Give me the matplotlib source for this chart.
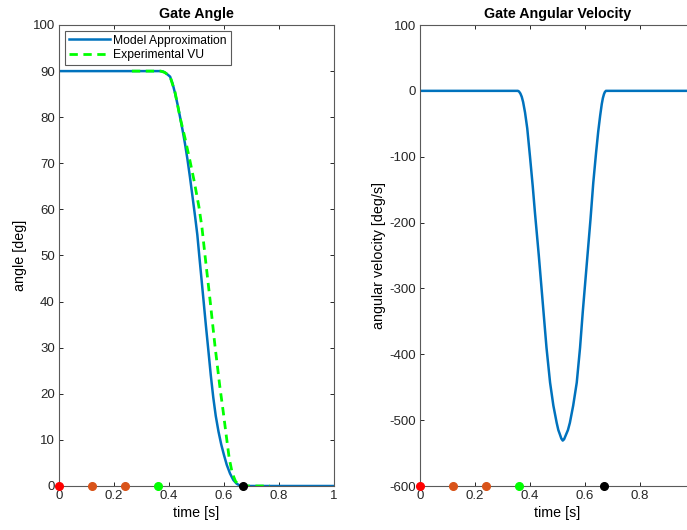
import numpy as np
import matplotlib.pyplot as plt

plt.rcParams['font.family'] = ['Liberation Sans', 'DejaVu Sans']
plt.rcParams['axes.unicode_minus'] = False

# model gate angle [deg] vs time [s]
t_model = [0.0, 0.356, 0.367, 0.379, 0.390, 0.404, 0.413, 0.422, 0.431, 0.440,
           0.449, 0.458, 0.467, 0.476, 0.485, 0.495, 0.503, 0.510, 0.518, 0.525,
           0.534, 0.543, 0.552, 0.561, 0.570, 0.580, 0.590, 0.600, 0.610, 0.622,
           0.634, 0.646, 0.657, 0.669, 1.0]
angle_model = [90.0, 90.0, 90.0, 89.9, 89.5, 88.8, 87.3, 85.2, 82.8, 80.1,
               77.3, 74.3, 70.9, 67.1, 63.0, 58.4, 54.5, 50.0, 45.0, 40.6,
               34.9, 29.5, 24.0, 19.2, 15.2, 11.8, 9.0, 6.7, 4.6, 2.7,
               1.3, 0.5, 0.12, 0.0, 0.0]

# measured gate angle (VU)
t_exp = [0.265, 0.370, 0.385, 0.404, 0.422, 0.440, 0.458, 0.476, 0.492, 0.509,
         0.520, 0.531, 0.549, 0.567, 0.585, 0.597, 0.607, 0.619, 0.630, 0.642,
         0.655, 0.670, 0.767]
angle_exp = [90.0, 90.0, 89.7, 88.8, 85.4, 80.0, 75.5, 70.6, 66.0, 60.5,
             56.0, 50.0, 40.5, 30.5, 21.5, 16.2, 11.5, 6.0, 2.8, 1.0,
             0.2, 0.0, 0.0]

# model angular velocity [deg/s]
t_vel = [0.0, 0.356, 0.360, 0.365, 0.370, 0.375, 0.382, 0.390, 0.400, 0.410,
         0.418, 0.432, 0.448, 0.460, 0.473, 0.485, 0.497, 0.503, 0.509, 0.514,
         0.519, 0.524, 0.531, 0.538, 0.545, 0.557, 0.570, 0.582, 0.592, 0.600,
         0.609, 0.620, 0.630, 0.640, 0.648, 0.655, 0.661, 0.665, 0.669, 0.672,
         0.676, 1.0]
vel = [0.0, 0.0, -1, -4, -9, -17, -33, -57, -100, -145,
       -185, -250, -330, -390, -443, -478, -504, -515, -522, -528,
       -531, -529, -522, -515, -504, -478, -443, -390, -335, -295,
       -250, -195, -140, -95, -62, -38, -20, -11, -5, -2,
       0.0, 0.0]

# event markers along the time axis
t_events = [0.0, 0.121, 0.240, 0.361, 0.670]
event_colors = ['#ff0000', '#d95319', '#d95319', '#00ff00', '#000000']

W, H = 687, 530
fig = plt.figure(figsize=(W / 100, H / 100), dpi=100)
ax1 = fig.add_axes([59 / W, 44 / H, 275 / W, 461 / H])
ax2 = fig.add_axes([420 / W, 44 / H, 275 / W, 461 / H])

blue = '#0072bd'
edge = '#5a5a5a'

ax1.plot(t_model, angle_model, color=blue, lw=1.8, label='Model Approximation')
ax1.plot(t_exp, angle_exp, '--', color='#00ff00', lw=2.0, dashes=(3.0, 2.0),
         label='Experimental VU')
ax1.set_xlim(0, 1)
ax1.set_ylim(0, 100)
ax1.set_xticks(np.arange(0, 1.01, 0.2))
ax1.set_xticklabels(['0', '0.2', '0.4', '0.6', '0.8', '1'])
ax1.set_yticks(np.arange(0, 101, 10))
ax1.set_title('Gate Angle', fontsize=10.3, fontweight='bold', pad=5)
ax1.set_xlabel('time [s]', fontsize=10.3, labelpad=3)
ax1.set_ylabel('angle [deg]', fontsize=10.3, labelpad=4)
leg = ax1.legend(loc='upper left', fontsize=8.7, fancybox=False, framealpha=1,
                 edgecolor=edge, borderaxespad=0.5, handlelength=3.4,
                 borderpad=0.3, labelspacing=0.2, handletextpad=0.3)
leg.get_frame().set_linewidth(0.8)

ax2.plot(t_vel, vel, color=blue, lw=1.8)
ax2.set_xlim(0, 1)
ax2.set_ylim(-600, 100)
# the 1.0 tick falls past the right edge of the figure
ax2.set_xticks(np.arange(0, 0.81, 0.2))
ax2.set_xticklabels(['0', '0.2', '0.4', '0.6', '0.8'])
ax2.set_yticks(np.arange(-600, 101, 100))
ax2.set_title('Gate Angular Velocity', fontsize=10.3, fontweight='bold', pad=5)
ax2.set_xlabel('time [s]', fontsize=10.3, labelpad=3)
ax2.set_ylabel('angular velocity [deg/s]', fontsize=10.3, labelpad=2)

for ax, ybase in [(ax1, 0), (ax2, -600)]:
    for te, c in zip(t_events, event_colors):
        ax.plot(te, ybase, 'o', color=c, ms=5.5, clip_on=False, zorder=5)
    ax.tick_params(direction='in', top=True, right=True, labelsize=9.5,
                   colors='#262626', length=3, width=0.7, pad=3)
    for s in ax.spines.values():
        s.set_color(edge)
        s.set_linewidth(0.8)

fig.savefig('out.png', dpi=100)
